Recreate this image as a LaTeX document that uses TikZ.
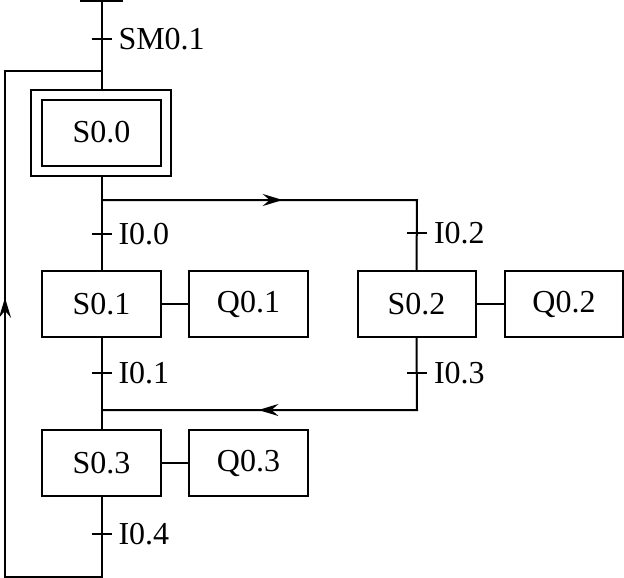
\documentclass[tikz,border=0pt]{standalone}
\usepackage{fontspec}
\setmainfont{Liberation Serif}
\usetikzlibrary{decorations.markings,arrows.meta}
\begin{document}
\begin{tikzpicture}[x=1pt,y=-1pt,line width=2pt,line join=miter,
  txt/.style={font=\fontsize{32}{32}\selectfont},
  stepbox/.style={draw,txt,minimum width=119pt,minimum height=66pt,inner sep=0pt},
  outbox/.style={draw,minimum width=140pt,minimum height=86pt,inner sep=0pt},
  lbl/.style={txt,anchor=west,inner sep=0pt},
  midarrow/.style={postaction={decorate},decoration={markings,mark=at position #1 with {\arrow{Stealth[length=20pt,width=12pt,inset=7pt]}}}}]
\useasboundingbox (0,0) rectangle (624,578);
% steps
\node[outbox] (s00o) at (101,133) {};
\node[stepbox] (s00) at (101.5,132.5) {S0.0};
\node[stepbox] (s01) at (101.5,304) {S0.1};
\node[stepbox] (q01) at (248.5,304) {Q0.1};
\node[stepbox,minimum width=118pt] (s02) at (416.5,304) {S0.2};
\node[stepbox,minimum width=118pt] (q02) at (564,304) {Q0.2};
\node[stepbox] (s03) at (101.5,463) {S0.3};
\node[stepbox] (q03) at (248.5,463) {Q0.3};
% junctions
\coordinate (top) at (101.5,0);
\coordinate (bl) at (80,1);
\coordinate (br) at (123,1);
\coordinate (j0) at (101.5,71);
\coordinate (c1) at (5,71);
\coordinate (c2) at (5,577);
\coordinate (c3) at (101.5,577);
\coordinate (j1) at (101.5,200);
\coordinate (b1) at (417,200);
\coordinate (j2) at (101.5,410);
\coordinate (m1) at (417,410);
% transitions
\coordinate (t0) at (101.5,39);
\coordinate (t1) at (101.5,234);
\coordinate (t2) at (417,233);
\coordinate (t3) at (101.5,373);
\coordinate (t4) at (417,373);
\coordinate (t5) at (101.5,534);
% connectors
\draw (bl) -- (br);
\draw (top) -- (top |- s00o.north);
\draw (top |- s00o.south) -- (s01.north);
\draw[midarrow=0.47] (j1) -- (b1) -- (s02.north);
\draw (s01.east) -- (q01.west);
\draw (s02.east) -- (q02.west);
\draw (s03.east) -- (q03.west);
\draw (s01.south) -- (s03.north);
\draw[midarrow=0.595] (s02.south) -- (m1) -- (j2);
\draw[midarrow=0.585] (s03.south) -- (c3) -- (c2) -- (c1) -- (j0);
% ticks and labels
\foreach \t/\l in {t0/SM0.1,t1/I0.0,t2/I0.2,t3/I0.1,t4/I0.3,t5/I0.4}{
  \draw ([xshift=-10pt]\t) -- ([xshift=10pt]\t);
  \node[lbl] (l\t) at ([xshift=16pt]\t) {\l};
}
\end{tikzpicture}
\end{document}
